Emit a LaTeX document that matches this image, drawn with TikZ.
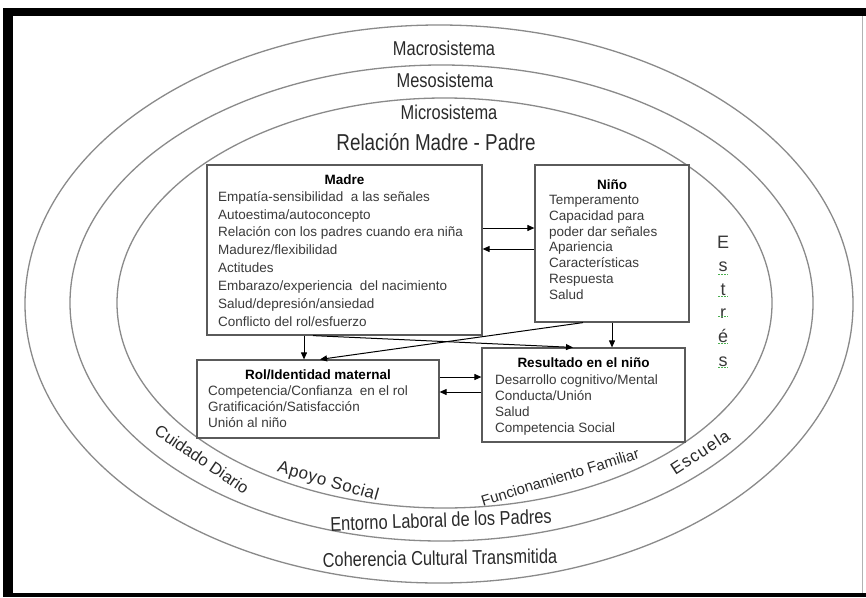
\documentclass[tikz,border=0pt]{standalone}
\usepackage{fontspec}
\setmainfont{Liberation Sans}
\newfontfamily\narrowfont[FakeStretch=0.82]{Liberation Sans}
\usetikzlibrary{arrows.meta,calc}
\definecolor{ringgray}{HTML}{8A8A8A}
\definecolor{boxgray}{HTML}{5A5A5A}
\definecolor{txtgray}{HTML}{3A3A3A}
\definecolor{labeldark}{HTML}{2A2A2A}
\definecolor{spellgreen}{HTML}{4CAF50}
\tikzset{
  ring/.style={draw=ringgray, line width=1.3pt},
  boxnode/.style={draw=boxgray, line width=1.2pt, fill=white, rectangle, inner sep=0pt},
  boxtext/.style={text=txtgray, align=left, inner sep=0pt, anchor=north west, font=\fontsize{13.5}{17.9}\selectfont},
  boxtitle/.style={text=black, inner sep=0pt, font=\fontsize{13.5}{16}\selectfont\bfseries},
  ringlabel/.style={text=labeldark, inner sep=0pt, font=\narrowfont\fontsize{20}{22}\selectfont},
  arclabel/.style={text=labeldark, inner sep=0pt, font=\fontsize{16.5}{18}\selectfont},
  arr/.style={draw=black, line width=1pt, -{Triangle[length=7pt,width=6pt]}},
}
\begin{document}
\begin{tikzpicture}[x=1pt,y=-1pt]
\useasboundingbox (0,0) rectangle (866,597);
\fill[white] (0,0) rectangle (866,597);
% frame
\fill[black] (3,8) rectangle (866,16);
\fill[black] (3,8) rectangle (13,597);
\fill[black] (3,593) rectangle (866,597);
\draw[gray!60, line width=0.8pt] (862.5,16) -- (862.5,593);
% rings
\draw[ring] (439,304) ellipse [x radius=414, y radius=279];
\draw[ring] (441.5,303) ellipse [x radius=371.5, y radius=238];
\draw[ring] (444.5,303) ellipse [x radius=327.5, y radius=205];
% ring labels
\node[ringlabel] (macro) at (444,48) {Macrosistema};
\node[ringlabel] (meso) at (445,80) {Mesosistema};
\node[ringlabel] (micro) at (449,112) {Microsistema};
\node[ringlabel, font=\narrowfont\fontsize{23}{25}\selectfont] (rel) at (436,142) {Relación Madre - Padre};
\node[ringlabel, rotate=2] (entorno) at (441,520) {Entorno Laboral de los Padres};
\node[ringlabel, rotate=1] (coher) at (440,558) {Coherencia Cultural Transmitida};
\node[arclabel, rotate=-34] (cuidado) at (202,459) {Cuidado Diario};
\node[arclabel, rotate=-16, font=\fontsize{17}{18}\selectfont] (apoyo) at (328,482) {\addfontfeature{LetterSpace=3}Apoyo Social};
\node[arclabel, rotate=17, font=\fontsize{15}{17}\selectfont] (func) at (560,477) {Funcionamiento Familiar};
\node[arclabel, rotate=33, font=\fontsize{17}{18}\selectfont] (escuela) at (700,452) {\addfontfeature{LetterSpace=6}Escuela};
% Estres
\node[text=txtgray, inner sep=0pt, align=center, font=\fontsize{18}{23.6}\selectfont] (estres) at (723,301) {E\\s\\t\\r\\é\\s};
\foreach \yy in {274,296,316,343,367}{
  \draw[spellgreen, line width=0.8pt, dash pattern=on 1.5pt off 1.5pt] (718,\yy) -- (728,\yy);
}
% boxes
\node[boxnode, minimum width=275pt, minimum height=170pt] (madre) at (344.5,250) {};
\node[boxnode, minimum width=154pt, minimum height=157pt] (nino) at (612,243.5) {};
\node[boxnode, minimum width=242pt, minimum height=78pt] (rol) at (318,399) {};
\node[boxnode, minimum width=203pt, minimum height=94pt] (res) at (583.5,395) {};
% box texts
\node[boxtitle] (madret) at (344.5,180) {Madre};
\node[boxtext] (madrel) at (218,191) {Empatía-sensibilidad\ \ a las señales\\Autoestima/autoconcepto\\Relación con los padres cuando era niña\\Madurez/flexibilidad\\Actitudes\\Embarazo/experiencia\ \ del nacimiento\\Salud/depresión/ansiedad\\Conflicto del rol/esfuerzo};
\node[boxtitle] (ninot) at (612,185) {Niño};
\node[boxtext, font=\fontsize{13.5}{15.8}\selectfont] (ninol) at (549,195) {Temperamento\\Capacidad para\\poder dar señales\\Apariencia\\Características\\Respuesta\\Salud};
\node[boxtitle] (rolt) at (318,375) {Rol/Identidad maternal};
\node[boxtext, font=\fontsize{13.5}{16}\selectfont] (roll) at (208,386) {Competencia/Confianza\ \ en el rol\\Gratificación/Satisfacción\\Unión al niño};
\node[boxtitle] (rest) at (583.5,363) {Resultado en el niño};
\node[boxtext, font=\fontsize{13.5}{16}\selectfont] (resl) at (495,375) {Desarrollo cognitivo/Mental\\Conducta/Unión\\Salud\\Competencia Social};
% arrows
\coordinate (a1) at ($(madre.east)+(0,-22)$);
\draw[arr] (a1) -- (a1 -| nino.west);
\coordinate (a2) at ($(madre.east)+(0,-1)$);
\draw[arr] (a2 -| nino.west) -- (a2);
\coordinate (a3) at ($(madre.south)+(-40.5,0)$);
\draw[arr] (a3) -- (a3 |- rol.north);
\draw[arr] (nino.south) -- (nino.south |- res.north);
\draw[arr] ($(madre.south)+(-31.5,0)$) -- ($(res.north)+(-10.5,0)$);
\draw[arr] ($(nino.south)+(-29,0)$) -- ($(rol.north)+(2,0)$);
\coordinate (a7) at ($(rol.east)+(0,-22)$);
\draw[arr] (a7) -- (a7 -| res.west);
\coordinate (a8) at ($(rol.east)+(0,-7)$);
\draw[arr] (a8 -| res.west) -- (a8);
\end{tikzpicture}
\end{document}
